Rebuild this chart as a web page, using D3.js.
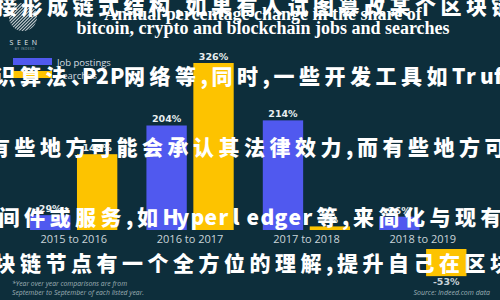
<!DOCTYPE html>
<html>
<head>
<meta charset="utf-8">
<script src="https://cdn.jsdelivr.net/npm/d3@7"></script>
<style>
  body { margin: 0; background: #0d2e3b; }
  svg { display: block; }
</style>
</head>
<body>
<script>
//============================================================
// Data
var categories = ["2015 to 2016", "2016 to 2017", "2017 to 2018", "2018 to 2019"];
var jobPostings = [29, 204, 214, 26];
var searches = [148, 326, 7, -53];
var seriesNames = ["Job postings", "Searches"];
var titleLines = ["Annual percentage change in the share of",
                  "bitcoin, crypto and blockchain jobs and searches"];
var noteLines = ["*Year over year comparisons are from",
                 "September to September of each listed year."];
var sourceText = "Source: Indeed.com data";
// watermark lines laid over the whole picture
var overlayLines = [
  "接形成链式结构,如果有人试图篡改某个区块链",
  "共识算法、P2P网络等,同时,一些开发工具如Truffle",
  "有些地方可能会承认其法律效力,而有些地方可能",
  "中间件或服务,如Hyperledger等,来简化与现有系统",
  "区块链节点有一个全方位的理解,提升自己在区块链"
];
var overlayStart = [-4, -31, -11, -27, -31];
var overlayY = [5, 75, 146, 216, 262];

var colors = { "Job postings": "#5059ef", "Searches": "#fdc300" };

//============================================================
// SVG
var W = 500, H = 300;
var svg = d3.select("body").append("svg")
  .attr("width", W)
  .attr("height", H);

svg.append("rect")
  .attr("width", W).attr("height", H)
  .attr("fill", "#0d2e3b");

//============================================================
// Logo
var logo = svg.append("g");
logo.append("clipPath").attr("id", "logoClip")
  .append("circle").attr("cx", 23).attr("cy", 17).attr("r", 14);
var stripes = logo.append("g").attr("clip-path", "url(#logoClip)");
d3.range(-30, 40, 3.2).forEach(function (k) {
  stripes.append("line")
    .attr("x1", k).attr("y1", 35)
    .attr("x2", k + 35).attr("y2", 0)
    .attr("stroke", "#c8d0d4")
    .attr("stroke-width", 1.1);
});
logo.append("text")
  .attr("x", 25).attr("y", 45)
  .attr("text-anchor", "middle")
  .attr("font-family", "'Open Sans', sans-serif")
  .attr("font-size", 7)
  .attr("letter-spacing", 3.5)
  .attr("fill", "#e8eef0")
  .text("SEEN");
logo.append("text")
  .attr("x", 25).attr("y", 50)
  .attr("text-anchor", "middle")
  .attr("font-family", "'Open Sans', sans-serif")
  .attr("font-size", 3)
  .attr("letter-spacing", 0.6)
  .attr("fill", "#9fb0b6")
  .text("BY INDEED");

//============================================================
// Title
svg.selectAll(".title")
  .data(titleLines)
  .enter()
  .append("text")
  .attr("class", "title")
  .attr("x", 263)
  .attr("y", function (d, i) { return 20 + i * 14; })
  .attr("text-anchor", "middle")
  .attr("font-family", "'Liberation Serif', serif")
  .attr("font-weight", "bold")
  .attr("font-size", 18)
  .attr("fill", "#ffffff")
  .text(function (d) { return d; });

//============================================================
// Legend
var legend = svg.selectAll(".legend")
  .data(seriesNames)
  .enter()
  .append("g")
  .attr("class", "legend")
  .attr("transform", function (d, i) { return "translate(13," + (58 + i * 13) + ")"; });
legend.append("rect")
  .attr("width", 39).attr("height", 7)
  .attr("fill", function (d) { return colors[d]; });
legend.append("text")
  .attr("x", 44).attr("y", 7.5)
  .attr("font-family", "'Open Sans', sans-serif")
  .attr("font-size", 9.5)
  .attr("fill", "#d5dde0")
  .text(function (d) { return d; });

//============================================================
// Scales
var x0 = d3.scaleBand()
  .domain(categories)
  .range([15.5, 481])
  .paddingInner(0.25)
  .paddingOuter(0.125);
var x1 = d3.scaleBand()
  .domain(seriesNames)
  .range([0, x0.bandwidth()])
  .paddingInner(0.14);
var y = d3.scaleLinear()
  .domain([0, 326])
  .range([230, 63]);
var negGap = 19; // negative bars hang below the category labels

var rows = categories.map(function (c, i) {
  return { cat: c, values: [
    { key: "Job postings", v: jobPostings[i] },
    { key: "Searches", v: searches[i] }
  ] };
});

var groups = svg.selectAll(".grp")
  .data(rows)
  .enter()
  .append("g")
  .attr("class", "grp")
  .attr("transform", function (d) { return "translate(" + x0(d.cat) + ",0)"; });

var barTop = function (d) { return d.v >= 0 ? y(d.v) : y(0) + negGap; };
var barH = function (d) { return Math.abs(y(d.v) - y(0)); };

groups.selectAll("rect")
  .data(function (d) { return d.values; })
  .enter()
  .append("rect")
  .attr("x", function (d) { return x1(d.key); })
  .attr("y", barTop)
  .attr("width", x1.bandwidth())
  .attr("height", barH)
  .attr("fill", function (d) { return colors[d.key]; });

groups.selectAll(".val")
  .data(function (d) { return d.values; })
  .enter()
  .append("text")
  .attr("class", "val")
  .attr("x", function (d) { return x1(d.key) + x1.bandwidth() / 2; })
  .attr("y", function (d) { return d.v >= 0 ? y(d.v) - 3 : barTop(d) + barH(d) + 9; })
  .attr("text-anchor", "middle")
  .attr("font-family", "'DejaVu Sans', sans-serif")
  .attr("font-weight", "bold")
  .attr("font-size", 9.5)
  .attr("fill", function (d) { return d.v >= 0 ? "#e8eef0" : "#c9d4d9"; })
  .text(function (d) { return d.v + "%"; });

//============================================================
// Category axis
var axis = svg.append("g")
  .attr("transform", "translate(0," + y(0) + ")")
  .call(d3.axisBottom(x0).tickSize(0).tickPadding(5));
axis.select(".domain").remove();
axis.selectAll("text")
  .attr("font-family", "'Open Sans', sans-serif")
  .attr("font-size", 11)
  .attr("fill", "#c9d4d9");

//============================================================
// Notes
svg.selectAll(".note")
  .data(noteLines)
  .enter()
  .append("text")
  .attr("class", "note")
  .attr("x", 12)
  .attr("y", function (d, i) { return 286 + i * 9; })
  .attr("font-family", "'Open Sans', sans-serif")
  .attr("font-style", "italic")
  .attr("font-size", 6.8)
  .attr("fill", "#9fb0b6")
  .text(function (d) { return d; });

svg.append("text")
  .attr("x", 490).attr("y", 295)
  .attr("text-anchor", "end")
  .attr("font-family", "'Open Sans', sans-serif")
  .attr("font-style", "italic")
  .attr("font-size", 7)
  .attr("fill", "#9fb0b6")
  .text(sourceText);

//============================================================
// Watermark text, one x per character
var charW = function (ch) {
  if (ch === "、" || ch === ",") return 11;
  if (/[\u2E80-\u9FFF\uFF00-\uFFEF]/.test(ch)) return 25.5;
  return 14;
};
var charXs = function (str, start) {
  var xs = [], cx = start;
  Array.from(str).forEach(function (ch) { xs.push(cx.toFixed(1)); cx += charW(ch); });
  return xs.join(" ");
};

svg.selectAll(".overlay")
  .data(overlayLines)
  .enter()
  .append("text")
  .attr("class", "overlay")
  .attr("x", function (d, i) { return charXs(d, overlayStart[i]); })
  .attr("y", function (d, i) { return overlayY[i]; })
  .attr("dominant-baseline", "central")
  .attr("font-family", "'Noto Sans CJK SC', sans-serif")
  .attr("font-weight", 900)
  .attr("font-size", 21)
  .attr("fill", "#ffffff")
  .text(function (d) { return d; });
</script>
</body>
</html>
